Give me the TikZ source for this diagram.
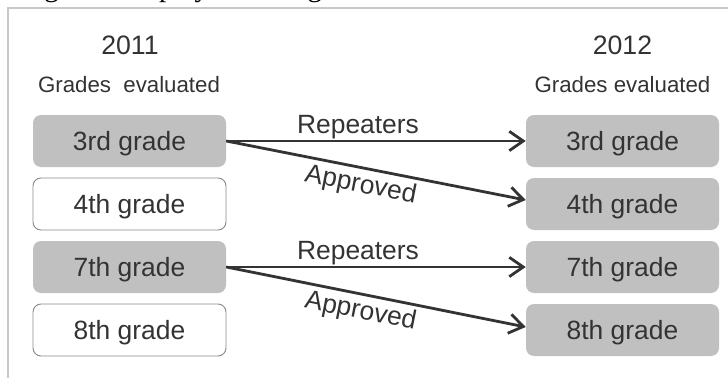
\documentclass[tikz,border=0pt]{standalone}
\usepackage{fontspec}
\setmainfont{Liberation Sans}
\newfontfamily\bodyserif{Liberation Serif}
\usetikzlibrary{arrows.meta,positioning,calc}

\definecolor{ink}{HTML}{333333}
\definecolor{boxgray}{HTML}{C0C0C0}
\definecolor{framegray}{HTML}{C8C8C8}
\definecolor{edgegray}{HTML}{8A8A8A}

\begin{document}
\begin{tikzpicture}[x=0.75pt,y=-0.75pt,
  gradebox/.style={rounded corners=6pt, minimum width=144.75pt, minimum height=39pt,
    inner sep=0pt, text height=14.2pt, text depth=0pt, font=\fontsize{19.8}{22}\selectfont,
    text=ink},
  filledbox/.style={gradebox, fill=boxgray},
  openbox/.style={gradebox, fill=white, draw=edgegray, line width=0.7pt},
  yearlabel/.style={font=\fontsize{20}{24}\selectfont, text=ink, anchor=base, inner sep=0pt},
  headlabel/.style={font=\fontsize{16.7}{20}\selectfont, text=ink, anchor=base, inner sep=0pt},
  flow/.style={draw=ink, line width=2.1pt, -{Straight Barb[length=10.5pt,width=14.5pt]}},
  flowlabel/.style={font=\fontsize{19.8}{22}\selectfont, text=ink, text depth=0pt}
]
\useasboundingbox (0,0) rectangle (728,378);
\clip (0,0) rectangle (728,378);

% running text of the page, cut by the top edge
\node[anchor=base west, inner sep=0pt, font=\bodyserif\fontsize{21.8}{24}\selectfont, text=black]
  (bodytext) at (3,-3.5) {. Figure 1 displays the longitudinal characterization of this study.};

% frame
\draw[framegray, line width=0.8pt] (8,378) -- (8,8) -- (728,8);

% column headings
\node[yearlabel] (y2011) at (130,55) {2011};
\node[headlabel] (h2011) at (129,92.7) {Grades\ \ evaluated};
\node[yearlabel] (y2012) at (622.5,55) {2012};
\node[headlabel] (h2012) at (622.5,92.7) {Grades evaluated};

% 2011 grades
\node[filledbox] (l3) at (129.5,141) {3rd grade};
\node[openbox]   (l4) at (129.5,204) {4th grade};
\node[filledbox] (l7) at (129.5,267) {7th grade};
\node[openbox]   (l8) at (129.5,330) {8th grade};

% 2012 grades
\node[filledbox] (r3) at (622.5,141) {3rd grade};
\node[filledbox] (r4) at (622.5,204) {4th grade};
\node[filledbox] (r7) at (622.5,267) {7th grade};
\node[filledbox] (r8) at (622.5,330) {8th grade};

% flows between years
\coordinate (t4) at ($(r4.west)+(0,-4)$);
\coordinate (t8) at ($(r8.west)+(0,-3)$);

\draw[flow] (l3.east) -- node[flowlabel, pos=0.44, above, inner sep=4.6pt] (rep1) {Repeaters} (r3.west);
\draw[flow] (l3.east) -- node[flowlabel, pos=0.46, sloped, below, inner sep=3pt] (app1) {Approved} (t4);
\draw[flow] (l7.east) -- node[flowlabel, pos=0.44, above, inner sep=4.6pt] (rep2) {Repeaters} (r7.west);
\draw[flow] (l7.east) -- node[flowlabel, pos=0.46, sloped, below, inner sep=3pt] (app2) {Approved} (t8);
\end{tikzpicture}
\end{document}
